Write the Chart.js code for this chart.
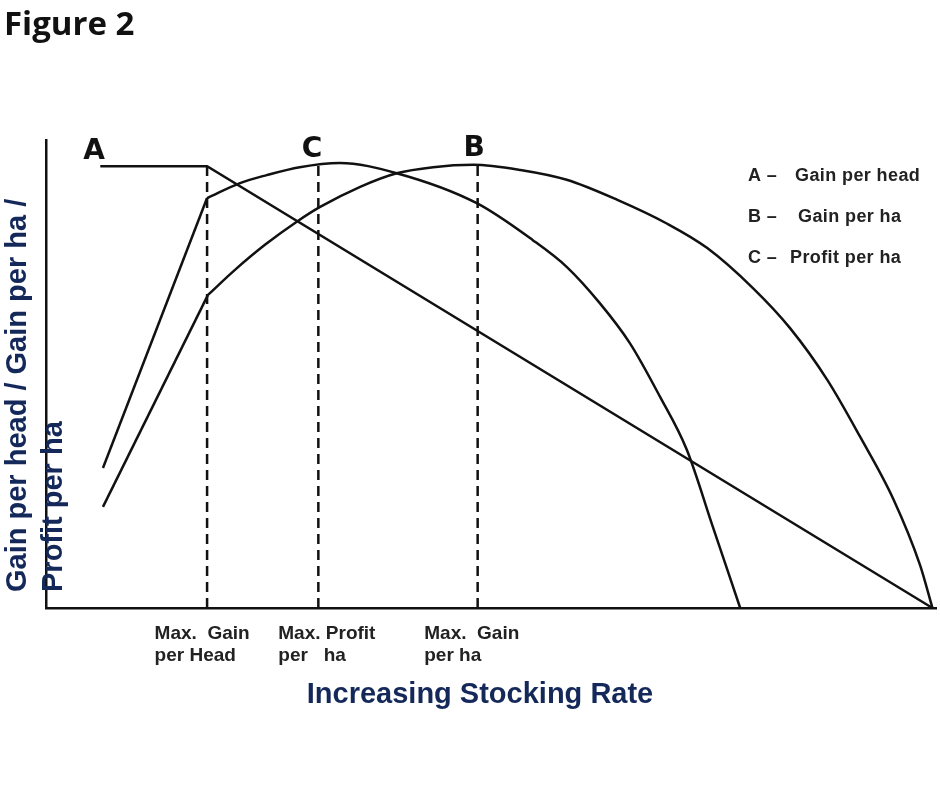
<!DOCTYPE html>
<html>
<head>
<meta charset="utf-8">
<script src="https://cdn.jsdelivr.net/npm/chart.js@4.4.1/dist/chart.umd.min.js"></script>
<style>
  html, body { margin: 0; padding: 0; background: #fff; }
  #wrap { position: relative; width: 940px; height: 788px; }
</style>
</head>
<body>
<div id="wrap"><canvas id="fig" width="940" height="788"></canvas></div>
<script>
// stocking rate (x) and response (y), both on a 0–100 relative scale

// A — gain per head: flat, then falls in a straight line
const gainHeadX = [6.1, 18.1, 99.6];
const gainHeadY = [94.4, 94.4, 0];

// C — profit per ha: steep rise, then a curve
const profitRiseX  = [6.4, 18.1];
const profitRiseY  = [29.9, 87.6];
const profitCurveX = [18.1, 21.8, 24.8, 28.5, 33.0, 39.4, 48.4, 54.7, 58.5, 62.2, 65.6, 69.0, 72.0, 74.9, 78.0];
const profitCurveY = [87.6, 90.8, 92.5, 94.2, 95.1, 92.9, 86.5, 78.6, 72.9, 65.2, 56.6, 45.1, 33.8, 17.5, 0];

// B — gain per ha: rise, then a wider curve
const gainHaRiseX  = [6.4, 18.2];
const gainHaRiseY  = [21.6, 66.9];
const gainHaCurveX = [18.2, 21.2, 24.6, 28.3, 30.8, 35.3, 39.4, 43.5, 48.0, 53.3, 58.5, 64.2, 69.8, 74.3, 79.4, 83.6, 87.8, 91.5, 95.2, 98.2, 99.6];
const gainHaCurveY = [66.9, 72.2, 77.6, 82.7, 85.7, 90.0, 92.9, 94.2, 94.7, 93.6, 91.5, 87.2, 82.1, 76.9, 68.4, 59.8, 48.7, 36.5, 23.3, 9.2, 0];

// dashed markers at the three maxima
const dashX    = [18.1, 30.6, 48.5];
const dashTopY = [94.4, 95.2, 94.7];

// x tick labels (left edge of each label)
const tickPos    = [12.2, 26.1, 42.5];
const tickLabels = [['Max.  Gain', 'per Head'], ['Max. Profit', 'per   ha'], ['Max.  Gain', 'per ha']];

// curve letters
const curveLetters = ['A', 'C', 'B'];
const letterX      = [5.4, 29.9, 48.1];
const letterY      = [97.6, 97.9, 98.1];

// legend: key and description
const legendKeys  = ['A –', 'B –', 'C –'];
const legendTexts = ['Gain per head', 'Gain per ha', 'Profit per ha'];

const INK  = '#111';
const NAVY = '#14295a';

function pts(xs, ys) {
  return xs.map((x, i) => ({ x, y: ys[i] }));
}

function solid(label, xs, ys, smooth) {
  return {
    label,
    data: pts(xs, ys),
    borderColor: INK,
    borderWidth: 2.5,
    pointRadius: 0,
    fill: false,
    tension: 0,
    cubicInterpolationMode: smooth ? 'monotone' : 'default',
    clip: false,
  };
}

const datasets = [
  solid('A', gainHeadX, gainHeadY, false),
  solid('C rise', profitRiseX, profitRiseY, false),
  solid('C', profitCurveX, profitCurveY, true),
  solid('B rise', gainHaRiseX, gainHaRiseY, false),
  solid('B', gainHaCurveX, gainHaCurveY, true),
];
dashX.forEach((x, i) => {
  datasets.push({
    label: 'max ' + i,
    data: [{ x, y: 0 }, { x, y: dashTopY[i] }],
    borderColor: INK,
    borderWidth: 2.5,
    borderDash: [10, 6],
    pointRadius: 0,
    fill: false,
    clip: false,
  });
});

/* ── texts around the plot ── */
const textPlugin = {
  id: 'figTexts',
  afterDraw(chart) {
    const { ctx, scales: { x, y } } = chart;
    ctx.save();

    // title
    ctx.fillStyle = INK;
    ctx.font = 'bold 33px "Open Sans"';
    ctx.textAlign = 'left';
    ctx.textBaseline = 'alphabetic';
    ctx.fillText('Figure 2', 4, 35);

    // x title
    ctx.fillStyle = NAVY;
    ctx.font = 'bold 29px "Liberation Sans"';
    ctx.textAlign = 'center';
    ctx.fillText('Increasing Stocking Rate', 480, 703);

    // y title, two rotated lines
    ctx.save();
    ctx.font = 'bold 29px "Liberation Sans"';
    ctx.textAlign = 'left';
    ctx.translate(26, 592);
    ctx.rotate(-Math.PI / 2);
    ctx.fillText('Gain per head / Gain per ha /', 0, 0);
    ctx.fillText('Profit per ha', 0, 36);
    ctx.restore();

    // legend
    ctx.fillStyle = '#222';
    ctx.font = 'bold 18px "Liberation Sans"';
    ctx.letterSpacing = '0.4px';
    ctx.textAlign = 'left';
    const textX = [795, 798, 790];
    legendKeys.forEach((k, i) => {
      const by = 181 + i * 41;
      ctx.fillText(k, 748, by);
      ctx.fillText(legendTexts[i], textX[i], by);
    });
    ctx.letterSpacing = '0px';

    // curve letters
    ctx.fillStyle = INK;
    ctx.font = 'bold 28px "DejaVu Sans"';
    ctx.textAlign = 'center';
    ctx.textBaseline = 'middle';
    curveLetters.forEach((t, i) => {
      ctx.fillText(t, x.getPixelForValue(letterX[i]), y.getPixelForValue(letterY[i]));
    });

    ctx.restore();
  },
};

new Chart(document.getElementById('fig'), {
  type: 'line',
  data: { datasets },
  options: {
    responsive: false,
    animation: false,
    devicePixelRatio: 1,
    layout: { padding: { top: 140, right: 4, bottom: 0, left: 0 } },
    plugins: {
      legend:  { display: false },
      tooltip: { enabled: false },
    },
    scales: {
      x: {
        type: 'linear',
        min: 0,
        max: 100,
        grid:   { display: false, drawTicks: false },
        border: { color: INK, width: 2.5 },
        afterBuildTicks: (s) => { s.ticks = tickPos.map((v) => ({ value: v })); },
        afterFit: (s) => { s.height = 180; },
        ticks: {
          autoSkip:    false,
          maxRotation: 0,
          align:       'start',
          padding:     15,
          color:       '#222',
          font:        { family: 'Liberation Sans', weight: 'bold', size: 19, lineHeight: 1.15 },
          callback:    (v, i) => tickLabels[i],
        },
      },
      y: {
        min: 0,
        max: 100,
        grid:   { display: false, drawTicks: false },
        border: { color: INK, width: 2.5 },
        ticks:  { display: false },
        afterFit: (s) => { s.width = 46; },
      },
    },
  },
  plugins: [textPlugin],
});
</script>
</body>
</html>
